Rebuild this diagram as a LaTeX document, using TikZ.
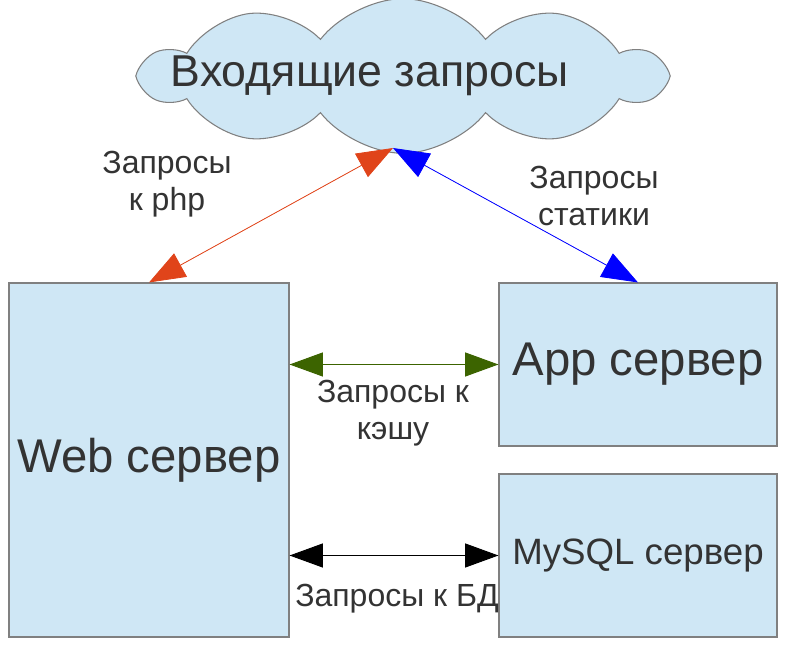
\documentclass[tikz,border=0pt]{standalone}
\usepackage{fontspec}
\setmainfont{Liberation Sans}
\usetikzlibrary{shapes.symbols,arrows.meta}
\definecolor{box_blue}{RGB}{207, 231, 245}
\definecolor{box_line}{RGB}{128, 128, 128}
\definecolor{txt_grey}{RGB}{51, 51, 51}
\definecolor{php_orange}{RGB}{224, 68, 26}
\definecolor{cache_green}{RGB}{60, 100, 0}
\tikzstyle{srv}=[rectangle,fill=box_blue,draw=box_line,line width=0.8pt,
  inner sep=0pt,text=txt_grey]
\tikzstyle{cld}=[cloud,cloud puffs=10,cloud puff arc=105,cloud ignores aspect,
  fill=box_blue,draw=box_line,line width=0.8pt,inner sep=0pt,text=txt_grey]
\tikzstyle{lbl}=[align=center,text=txt_grey,inner sep=0pt,
  font=\fontsize{24}{28}\selectfont]
\tikzstyle{dbl}=[{Triangle[length=25pt,width=18pt]}-{Triangle[length=25pt,width=18pt]},line width=0.8pt]
\tikzstyle{dbl_big}=[{Triangle[length=27pt,width=20pt]}-{Triangle[length=27pt,width=20pt]},line width=0.6pt]

\begin{document}
\begin{tikzpicture}[x=0.75pt, y=-0.75pt]
    \useasboundingbox (0, 0) rectangle (790, 648);
    \node [style=cld, minimum width=390pt, minimum height=116pt,
      label={[text=txt_grey, xshift=-25pt, font=\fontsize{33.5}{36}\selectfont]center:Входящие запросы}]
      (req) at (403, 76) {};
    \node [style=srv, minimum width=210pt, minimum height=265.5pt,
      font=\fontsize{35.5}{38}\selectfont] (web) at (149, 460) {Web сервер};
    \node [style=srv, minimum width=208.5pt, minimum height=122.25pt,
      font=\fontsize{35.5}{38}\selectfont] (app) at (638, 364.5) {App сервер};
    \node [style=srv, minimum width=208.5pt, minimum height=122.25pt,
      font=\fontsize{27.5}{30}\selectfont] (db) at (638, 555.5) {MySQL сервер};
    \coordinate (top) at (393, 148);
    \node [style=lbl] (l1) at (167, 184) {Запросы\\к php};
    \node [style=lbl] (l2) at (594, 196) {Запросы\\статики};
    \node [style=lbl] (l3) at (393, 413) {Запросы к\\кэшу};
    \node [style=lbl] (l4) at (397, 599) {Запросы к БД};
    \draw [style=dbl_big, draw=php_orange, fill=php_orange] (web.north) to (top);
    \draw [style=dbl_big, draw=blue, fill=blue] (app.north) to (top);
    \draw [style=dbl, draw=cache_green, fill=cache_green] (web.east |- app.west) to (app.west);
    \draw [style=dbl, draw=black, fill=black] (web.east |- db.west) to (db.west);
\end{tikzpicture}
\end{document}
